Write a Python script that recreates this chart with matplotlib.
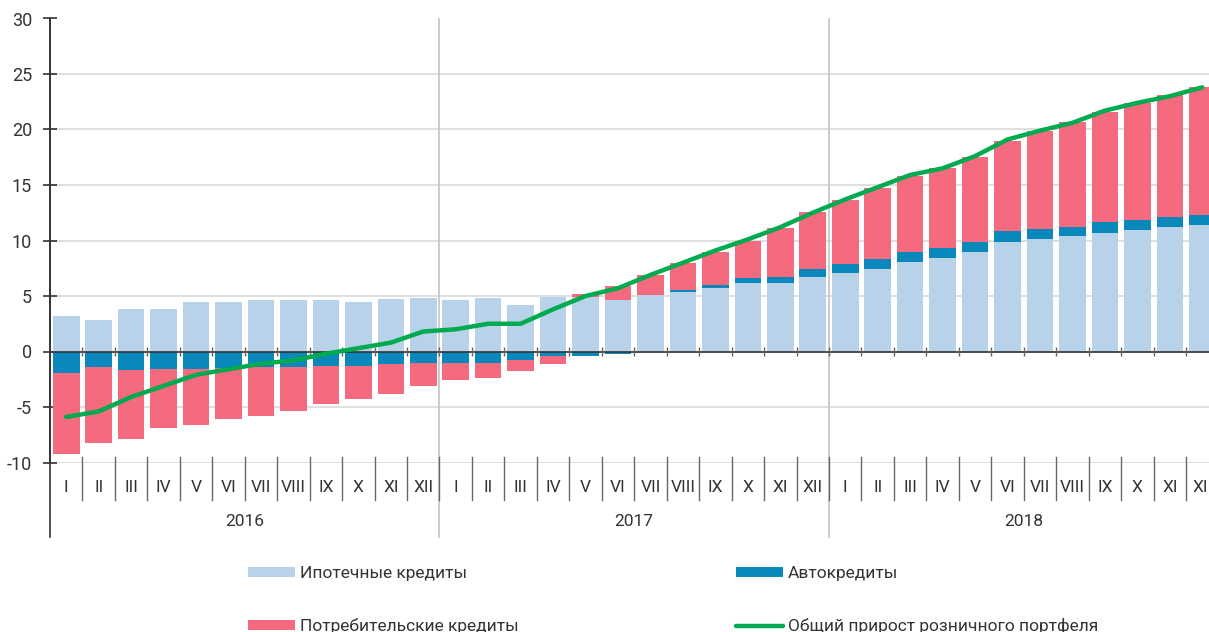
import numpy as np
import matplotlib.pyplot as plt

plt.rcParams['font.family'] = ['Roboto', 'DejaVu Sans']
plt.rcParams['axes.unicode_minus'] = False

months = ['I', 'II', 'III', 'IV', 'V', 'VI', 'VII', 'VIII', 'IX', 'X', 'XI', 'XII']
years = ['2016', '2017', '2018']

mortgage = [3.2, 2.8, 3.8, 3.8, 4.5, 4.5, 4.6, 4.6, 4.6, 4.5, 4.7, 4.8,
            4.6, 4.8, 4.2, 4.9, 4.9, 4.65, 5.1, 5.4, 5.7, 6.15, 6.2, 6.75,
            7.07, 7.47, 8.1, 8.46, 8.94, 9.87, 10.12, 10.39, 10.72, 10.96, 11.2, 11.38]
auto = [-1.9, -1.4, -1.7, -1.6, -1.6, -1.5, -1.4, -1.4, -1.3, -1.3, -1.1, -1.0,
        -1.0, -1.05, -0.8, -0.45, -0.4, -0.25, 0.0, 0.15, 0.3, 0.5, 0.55, 0.65,
        0.83, 0.83, 0.87, 0.87, 0.93, 0.97, 0.93, 0.87, 0.93, 0.9, 0.93, 0.92]
consumer = [-7.3, -6.8, -6.2, -5.3, -5.0, -4.6, -4.4, -4.0, -3.4, -3.0, -2.7, -2.1,
            -1.6, -1.35, -1.0, -0.7, 0.3, 1.25, 1.8, 2.4, 3.0, 3.35, 4.35, 5.15,
            5.75, 6.45, 6.88, 7.23, 7.63, 8.16, 8.85, 9.4, 9.95, 10.57, 11.02, 11.5]
total = [-5.9, -5.4, -4.1, -3.1, -2.1, -1.6, -1.1, -0.8, -0.2, 0.3, 0.8, 1.8,
         2.0, 2.5, 2.5, 3.8, 5.0, 5.7, 6.9, 8.0, 9.1, 10.1, 11.2, 12.5,
         13.7, 14.8, 15.9, 16.5, 17.6, 19.1, 19.9, 20.6, 21.7, 22.4, 23.0, 23.8]

c_mort = '#b8d2ea'
c_auto = '#0a88bb'
c_cons = '#f46b80'
c_total = '#00aa4f'
c_grid = '#d9d9d9'
c_text = '#333333'

fig = plt.figure(figsize=(12.09, 6.32), dpi=100)
ax = fig.add_axes([50 / 1209, 169.5 / 632, 1168.5 / 1209, 444 / 632])

x = np.arange(len(mortgage))
pos_base = np.zeros(len(x))
neg_base = np.zeros(len(x))
handles = {}
for name, vals, col in [('Ипотечные кредиты', mortgage, c_mort),
                        ('Автокредиты', auto, c_auto),
                        ('Потребительские кредиты', consumer, c_cons)]:
    v = np.array(vals)
    bottom = np.where(v >= 0, pos_base, neg_base)
    handles[name] = ax.bar(x, v, 0.82, bottom=bottom, color=col, zorder=2, label=name)
    pos_base = pos_base + np.clip(v, 0, None)
    neg_base = neg_base + np.clip(v, None, 0)

line, = ax.plot(x, total, color=c_total, lw=3.2, zorder=4, solid_capstyle='round',
                label='Общий прирост розничного портфеля')

ax.set_xlim(-0.5, len(x) - 0.5)
ax.set_ylim(-10, 30)
ax.set_yticks(range(-10, 31, 5))
ax.yaxis.grid(True, color=c_grid, lw=1.2, zorder=0)
ax.set_axisbelow(True)
ax.axhline(0, color=c_text, lw=1.2, zorder=3)
for s in ['top', 'right', 'bottom']:
    ax.spines[s].set_visible(False)
ax.spines['left'].set_color(c_text)
ax.spines['left'].set_linewidth(1.2)
ax.tick_params(axis='y', direction='inout', length=10, width=1.2, color=c_text,
               labelsize=13, labelcolor=c_text, pad=8)
ax.set_xticks([])

trans = ax.get_xaxis_transform()
bounds = np.arange(len(x) + 1) - 0.5
# small ticks on the zero line
ax.vlines(bounds[1:-1], -0.45, 0.45, color='#666666', lw=1, zorder=3)
# month separators and labels
for b in bounds[1:-1]:
    ax.plot([b, b], [0.0125, -0.085], transform=trans, color='#666666', lw=1,
            clip_on=False)
for i in x:
    ax.text(i, -0.056, months[i % 12], transform=trans, ha='center', va='center',
            fontsize=12.5, color=c_text)
# year separators and labels
for k, yr in enumerate(years):
    xb = k * 12 - 0.5
    ax.plot([xb, xb], [1, -0.168], transform=trans,
            color=c_text if k == 0 else '#c4c4c4', lw=1.2, clip_on=False, zorder=1)
    ax.text(k * 12 + 5.5, -0.134, yr, transform=trans, ha='center', va='center',
            fontsize=12.5, color=c_text)

leg_handles = [handles['Ипотечные кредиты'], handles['Потребительские кредиты'],
               handles['Автокредиты'], line]
leg = fig.legend(handles=leg_handles, loc='upper left', ncol=2,
                 bbox_to_anchor=(248 / 1209, (632 - 566) / 632),
                 frameon=False, fontsize=12.5, handlelength=2.7, handleheight=0.55,
                 handletextpad=0.3, columnspacing=12.5, labelspacing=2.15,
                 borderpad=0, borderaxespad=0)
for t in leg.get_texts():
    t.set_color(c_text)

fig.savefig('out.png', dpi=100)
